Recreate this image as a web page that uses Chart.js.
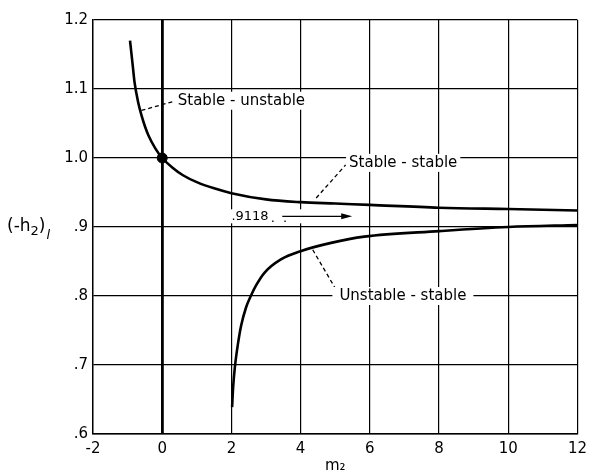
<!DOCTYPE html>
<html>
<head>
<meta charset="utf-8">
<script src="https://cdn.jsdelivr.net/npm/chart.js@4/dist/chart.umd.min.js"></script>
<style>
  html, body { margin: 0; padding: 0; background: #fff; }
  #wrap { width: 593px; height: 475px; position: relative; }
</style>
</head>
<body>
<div id="wrap"><canvas id="chart" width="593" height="475"></canvas></div>
<script>
// values
const upperX = [-0.93, -0.85, -0.8, -0.7, -0.6, -0.5, -0.4, -0.2, 0, 0.3, 0.6, 1.0, 1.5, 2, 3, 4, 5, 6, 8, 10, 12];
const upperY = [1.17, 1.133, 1.11, 1.082, 1.062, 1.046, 1.033, 1.014, 1.0, 0.986, 0.975, 0.965, 0.956, 0.949, 0.940, 0.936, 0.934, 0.932, 0.928, 0.926, 0.924];
const lowerX = [2.02, 2.05, 2.10, 2.19, 2.28, 2.42, 2.56, 2.72, 2.96, 3.43, 4, 4.88, 5.84, 8, 10, 12];
const lowerY = [0.639, 0.668, 0.697, 0.731, 0.757, 0.783, 0.800, 0.816, 0.834, 0.853, 0.865, 0.877, 0.886, 0.894, 0.900, 0.903];
const dotX = [0];
const dotY = [1.0];
const yTickValues = [0.6, 0.7, 0.8, 0.9, 1.0, 1.1, 1.2];
const yTickLabels = ['.6', '.7', '.8', '.9', '1.0', '1.1', '1.2'];
const asymptoteLabel = '.9118';

const FONT = '"DejaVu Sans", sans-serif';

function toPoints(xs, ys) {
    return xs.map((x, i) => ({ x: x, y: ys[i] }));
}

// label with white box behind it, so the grid is broken there
function boxedText(ctx, text, x, y, padX) {
    const w = ctx.measureText(text).width;
    ctx.fillStyle = '#fff';
    ctx.fillRect(x - padX, y - 9, w + padX * 2, 18);
    ctx.fillStyle = '#000';
    ctx.fillText(text, x, y);
    return w;
}

function dashed(ctx, x1, y1, x2, y2) {
    ctx.save();
    ctx.setLineDash([4, 3]);
    ctx.lineWidth = 1.3;
    ctx.beginPath();
    ctx.moveTo(x1, y1);
    ctx.lineTo(x2, y2);
    ctx.stroke();
    ctx.restore();
}

const notes = {
    id: 'notes',
    afterDatasetsDraw(chart) {
        const ctx = chart.ctx;
        const xs = chart.scales.x, ys = chart.scales.y;
        const px = v => xs.getPixelForValue(v);
        const py = v => ys.getPixelForValue(v);
        ctx.save();
        ctx.font = '15px ' + FONT;
        ctx.textBaseline = 'middle';
        ctx.textAlign = 'left';
        ctx.strokeStyle = '#000';

        // Stable - unstable
        dashed(ctx, px(-0.6), py(1.069), px(0.4), py(1.083));
        boxedText(ctx, 'Stable - unstable', px(0.45), py(1.083), 3);

        // Stable - stable
        dashed(ctx, px(4.45), py(0.942), px(5.3), py(0.99));
        boxedText(ctx, 'Stable - stable', px(5.4), py(0.993), 3);

        // Unstable - stable
        dashed(ctx, px(4.35), py(0.867), px(5.05), py(0.807));
        boxedText(ctx, 'Unstable - stable', px(5.12), py(0.80), 7);

        // .9118 arrow
        ctx.font = '13px ' + FONT;
        const ay = py(0.9155);
        ctx.fillStyle = '#fff';
        ctx.fillRect(px(1.95), ay - 7, px(5.55) - px(1.95), 14);
        ctx.fillStyle = '#000';
        const w = ctx.measureText(asymptoteLabel).width;
        ctx.fillText(asymptoteLabel, px(2.0), ay);
        ctx.fillText('.  .', px(2.0) + w + 2, ay + 2);
        const a0 = px(3.47), a1 = px(5.49);
        ctx.lineWidth = 1.3;
        ctx.beginPath();
        ctx.moveTo(a0, ay);
        ctx.lineTo(a1 - 8, ay);
        ctx.stroke();
        ctx.beginPath();
        ctx.moveTo(a1, ay);
        ctx.lineTo(a1 - 11, ay - 3);
        ctx.lineTo(a1 - 11, ay + 3);
        ctx.closePath();
        ctx.fill();

        // y axis title (-h2)l
        ctx.font = '17px ' + FONT;
        const ty = py(0.9);
        let tx = 7;
        ctx.fillText('(-h', tx, ty);
        tx += ctx.measureText('(-h').width;
        ctx.font = '13px ' + FONT;
        ctx.fillText('2', tx, ty + 5);
        tx += ctx.measureText('2').width;
        ctx.font = '17px ' + FONT;
        ctx.fillText(')', tx, ty);
        tx += ctx.measureText(')').width + 1;
        ctx.font = 'italic 13px ' + FONT;
        ctx.fillText('l', tx, ty + 9);
        ctx.restore();
    }
};

new Chart(document.getElementById('chart'), {
    type: 'scatter',
    data: {
        datasets: [
            {
                label: 'Stable',
                data: toPoints(upperX, upperY),
                showLine: true,
                borderColor: '#000',
                borderWidth: 2.6,
                pointRadius: 0,
                cubicInterpolationMode: 'monotone'
            },
            {
                label: 'Unstable - stable',
                data: toPoints(lowerX, lowerY),
                showLine: true,
                borderColor: '#000',
                borderWidth: 2.6,
                pointRadius: 0,
                cubicInterpolationMode: 'monotone'
            },
            {
                label: 'Crossing',
                data: toPoints(dotX, dotY),
                backgroundColor: '#000',
                borderColor: '#000',
                pointRadius: 5
            }
        ]
    },
    options: {
        responsive: false,
        animation: false,
        layout: { padding: { top: 20, right: 14, left: 0, bottom: 0 } },
        plugins: {
            legend: { display: false },
            tooltip: { enabled: false }
        },
        scales: {
            x: {
                type: 'linear',
                min: -2,
                max: 12,
                afterFit: s => { s.height = 41; },
                border: { color: '#000', width: 1.4 },
                grid: {
                    color: '#000',
                    lineWidth: c => (c.tick && c.tick.value === 0 ? 2.8 : 1.2),
                    drawTicks: false
                },
                ticks: {
                    stepSize: 2,
                    color: '#000',
                    padding: 6,
                    maxRotation: 0,
                    font: { family: FONT, size: 15 }
                },
                title: {
                    display: true,
                    text: 'm₂',
                    color: '#000',
                    padding: 0,
                    font: { family: FONT, size: 15 }
                }
            },
            y: {
                type: 'linear',
                min: 0.6,
                max: 1.2,
                afterFit: s => { s.width = 93; },
                afterBuildTicks: s => { s.ticks = yTickValues.map(v => ({ value: v })); },
                border: { color: '#000', width: 1.4 },
                grid: {
                    color: '#000',
                    lineWidth: 1.2,
                    drawTicks: false
                },
                ticks: {
                    color: '#000',
                    padding: 5,
                    font: { family: FONT, size: 15 },
                    callback: v => {
                        const i = yTickValues.findIndex(t => Math.abs(t - v) < 1e-6);
                        return i >= 0 ? yTickLabels[i] : '';
                    }
                }
            }
        }
    },
    plugins: [notes]
});
</script>
</body>
</html>
